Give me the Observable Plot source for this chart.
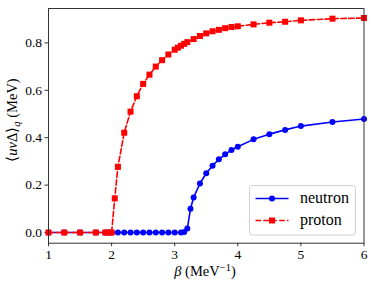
<!DOCTYPE html>
<html><head><meta charset="utf-8">
<script src="https://cdn.jsdelivr.net/npm/d3@7"></script>
<script src="https://cdn.jsdelivr.net/npm/@observablehq/plot@0.6"></script>
<style>body{margin:0;background:#fff}</style>
</head><body><div id="chart"></div>
<script>
const betaNeutron = [1,1.25,1.5,1.75,1.9,1.95,2.0,2.1,2.2,2.3,2.4,2.5,2.6,2.7,2.8,2.9,3.0,3.1,3.15,3.2,3.25,3.3,3.4,3.5,3.6,3.7,3.8,3.9,4.0,4.25,4.5,4.75,5.0,5.5,6.0];
const neutron = [0,0,0,0,0,0,0,0,0,0,0,0,0,0,0,0,0,0,0.002,0.017,0.10,0.148,0.207,0.25,0.282,0.309,0.33,0.348,0.362,0.393,0.415,0.433,0.449,0.466,0.479];
const betaProton = [1,1.25,1.5,1.75,1.9,1.95,2.0,2.05,2.1,2.2,2.3,2.4,2.5,2.6,2.7,2.8,2.9,3.0,3.05,3.1,3.15,3.2,3.3,3.4,3.5,3.6,3.7,3.8,3.9,4.0,4.25,4.5,4.75,5.0,5.5,6.0];
const proton = [0,0,0,0,0,0,0,0.144,0.277,0.421,0.51,0.575,0.627,0.666,0.70,0.727,0.751,0.771,0.78,0.788,0.796,0.803,0.816,0.829,0.84,0.849,0.855,0.862,0.867,0.87,0.878,0.885,0.889,0.895,0.902,0.905];
const xTicks = [1,2,3,4,5,6];
const yTicks = [0,0.2,0.4,0.6,0.8];
const seriesNames = ["neutron","proton"];

const nData = betaNeutron.map((b,i)=>({b, v:neutron[i]}));
const pData = betaProton.map((b,i)=>({b, v:proton[i]}));
const font = "Liberation Serif";

const svg = Plot.plot({
  width:374, height:287,
  marginLeft:48, marginRight:10.5, marginTop:8, marginBottom:44.3,
  x:{domain:[1,6]},
  y:{domain:[-0.045,0.945]},
  style:{fontFamily:font, fontSize:"13px", background:"white", color:"black"},
  marks:[
    Plot.axisX({ticks:xTicks, tickFormat:d3.format("d"), tickSize:3.5, tickPadding:3, label:null, fontSize:13.5, stroke:"#333"}),
    Plot.axisY({ticks:yTicks, tickFormat:d3.format(".1f"), tickSize:3.5, tickPadding:3, label:null, fontSize:13.5, stroke:"#333"}),
    Plot.line(nData,{x:"b", y:"v", stroke:"#0000ff", strokeWidth:1.6}),
    Plot.dot(nData,{x:"b", y:"v", r:3, fill:"#0000ff", stroke:"none"}),
    Plot.line(pData,{x:"b", y:"v", stroke:"#ff0000", strokeWidth:1.6, strokeDasharray:"5.5,2.4"}),
    Plot.dot(pData,{x:"b", y:"v", r:3.4, symbol:"square", fill:"#ff0000", stroke:"none"}),
    Plot.frame({stroke:"#333", strokeWidth:1})
  ]
});

const s = d3.select(svg);
// y label
const yl = s.append("text").attr("transform","translate(17,120) rotate(-90)")
  .attr("text-anchor","middle").attr("font-size",14.5).attr("fill","black");
yl.append("tspan").text("⟨");
yl.append("tspan").attr("font-style","italic").text("uv");
yl.append("tspan").text("Δ⟩");
yl.append("tspan").attr("font-style","italic").attr("font-size",10.5).attr("dy",3).text("q");
yl.append("tspan").attr("dy",-3).text(" (MeV)");
// x label
const xl = s.append("text").attr("x",205).attr("y",276)
  .attr("text-anchor","middle").attr("font-size",14.5).attr("fill","black");
xl.append("tspan").attr("font-style","italic").text("β");
xl.append("tspan").text(" (MeV");
xl.append("tspan").attr("font-size",10.5).attr("dy",-5).text("−1");
xl.append("tspan").attr("dy",5).text(")");

// legend
const lg = s.append("g");
lg.append("rect").attr("x",249.5).attr("y",185.5).attr("width",106).attr("height",49.5).attr("rx",3)
  .attr("fill","white").attr("fill-opacity",0.8).attr("stroke","#d0d0d0");
const rows = [{y:198.5, color:"#0000ff", dash:null, sym:"circle"},{y:220.5, color:"#ff0000", dash:"5.5,2.4", sym:"square"}];
rows.forEach((r,i)=>{
  lg.append("line").attr("x1",255.5).attr("x2",288.5).attr("y1",r.y).attr("y2",r.y)
    .attr("stroke",r.color).attr("stroke-width",1.6).attr("stroke-dasharray",r.dash);
  if (r.sym==="circle") lg.append("circle").attr("cx",272).attr("cy",r.y).attr("r",3).attr("fill",r.color);
  else lg.append("rect").attr("x",269).attr("y",r.y-3).attr("width",6).attr("height",6).attr("fill",r.color);
  lg.append("text").attr("x",300).attr("y",r.y+4.5).attr("text-anchor","start").attr("font-size",16).attr("fill","black").text(seriesNames[i]);
});

s.selectAll("text").style("font-family", "'Liberation Serif'");
document.getElementById("chart").appendChild(svg);
</script>
</body></html>
